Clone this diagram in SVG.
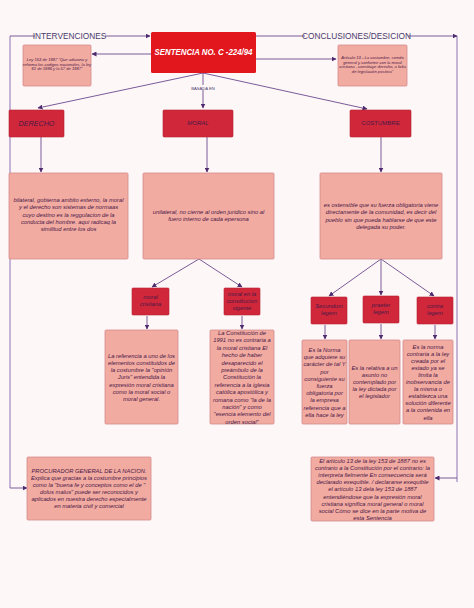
<svg xmlns="http://www.w3.org/2000/svg" width="474" height="608" viewBox="0 0 474 608">
<defs>
<marker id="arr" markerWidth="5" markerHeight="5" refX="4.5" refY="2.5" orient="auto" markerUnits="userSpaceOnUse">
<path d="M0,0 L5,2.5 L0,5 Z" fill="#4e2a6e"/>
</marker>
<style>
.cn{stroke:#6b4a8c;stroke-width:0.9;fill:none}
.side{stroke:#b8a3cf;stroke-width:1.6;fill:none}
.red{fill:#d0283a;stroke:#b51f31;stroke-width:0.6}
.pink{fill:#f1aba1;stroke:#d68a8e;stroke-width:0.8}
.t{font-family:"Liberation Sans",Arial,sans-serif;font-style:italic;fill:#4b1848;text-anchor:middle}
.s{font-size:5.8px}
.xs{font-size:4.1px}
.lab{font-family:"Liberation Sans",Arial,sans-serif;fill:#4a3a6a;text-anchor:middle}
</style>
</defs>
<rect x="0" y="0" width="474" height="608" fill="#fdf7f8"/>

<g id="connectors">
<path class="side" d="M10,36 L10,488"/>
<path class="cn" d="M10,36 L150,36" marker-end="url(#arr)"/>
<path class="cn" d="M10,488 L27,488" marker-end="url(#arr)"/>
<path class="side" d="M457,36 L457,482"/>
<path class="cn" d="M256,36 L457,36" marker-end="url(#arr)"/>
<path class="cn" d="M457,478 L435,478" marker-end="url(#arr)"/>
<path class="cn" d="M151,54 L92,54" marker-end="url(#arr)"/>
<path class="cn" d="M256,59 L336,59" marker-end="url(#arr)"/>
<path class="cn" d="M203,73 L38,108" marker-end="url(#arr)"/>
<path class="cn" d="M203,73 L203,108" marker-end="url(#arr)"/>
<path class="cn" d="M203,73 L367,109" marker-end="url(#arr)"/>
<path class="cn" d="M41,137 L41,172" marker-end="url(#arr)"/>
<path class="cn" d="M207,137 L207,172" marker-end="url(#arr)"/>
<path class="cn" d="M381,137 L381,172" marker-end="url(#arr)"/>
<path class="cn" d="M199,259 L152,287" marker-end="url(#arr)"/>
<path class="cn" d="M199,259 L242,287" marker-end="url(#arr)"/>
<path class="cn" d="M147,316 L147,329" marker-end="url(#arr)"/>
<path class="cn" d="M242,316 L242,329" marker-end="url(#arr)"/>
<path class="cn" d="M381,259 L329,296" marker-end="url(#arr)"/>
<path class="cn" d="M381,259 L381,295" marker-end="url(#arr)"/>
<path class="cn" d="M381,259 L434,296" marker-end="url(#arr)"/>
<path class="cn" d="M325,325 L325,339" marker-end="url(#arr)"/>
<path class="cn" d="M381,324 L381,339" marker-end="url(#arr)"/>
<path class="cn" d="M435,325 L435,339" marker-end="url(#arr)"/>
<rect x="35" y="31" width="70" height="9" fill="#fdf7f8"/>
<text class="lab" x="69.5" y="39" font-size="8.3">INTERVENCIONES</text>
<rect x="305" y="31" width="103" height="9" fill="#fdf7f8"/>
<text class="lab" x="356.5" y="39" font-size="8.3">CONCLUSIONES/DESICION</text>
<rect x="190" y="85" width="26" height="5" fill="#fdf7f8"/>
<text class="lab" x="203" y="89.5" font-size="4.2">BASADA EN</text>
</g>

<g id="title">
<rect x="151" y="32" width="105" height="41" rx="1.5" fill="#e2161d"/>
<text x="203.5" y="55" font-family="'Liberation Sans',Arial,sans-serif" font-weight="bold" font-style="italic" font-size="8.2" fill="#ffffff" text-anchor="middle" textLength="98" lengthAdjust="spacingAndGlyphs">SENTENCIA NO. C -224/94</text>
</g>

<g id="ley153">
<rect class="pink" x="23" y="45" width="68" height="41" rx="1"/>
<text class="t xs"><tspan x="57" y="61">Ley 153 de 1887 "Que adiciona y</tspan><tspan x="57" y="65.5">reforma los codigos nacionales, la ley</tspan><tspan x="57" y="70">61 de 1886 y la 57 de 1887"</tspan></text>
</g>

<g id="articulo13">
<rect class="pink" x="338" y="45" width="69" height="41" rx="1"/>
<text class="t xs"><tspan x="372.5" y="59">Artículo 13 -  La costumbre, siendo</tspan><tspan x="372.5" y="63.7">general y conforme con la moral</tspan><tspan x="372.5" y="68.4">cristiana , constituye derecho, a falta</tspan><tspan x="372.5" y="73.1">de legislación positiva"</tspan></text>
</g>

<g id="derecho">
<rect class="red" x="9" y="110" width="55" height="27" rx="1"/>
<text class="t" x="36.5" y="125.5" font-size="7.2">DERECHO</text>
</g>

<g id="moral">
<rect class="red" x="163" y="110" width="70" height="27" rx="1"/>
<text class="t" x="198" y="125" font-size="6">MORAL</text>
</g>

<g id="costumbre">
<rect class="red" x="350" y="110" width="61" height="27" rx="1"/>
<text class="lab" x="380.5" y="125" font-size="6" fill="#4b1848" style="fill:#4b1848">COSTUMBRE</text>
</g>

<g id="derecho-desc">
<rect class="pink" x="9" y="173" width="119" height="86" rx="1"/>
<text class="t s"><tspan x="68.5" y="202">bilateral, gobierna ambito externo, la moral</tspan><tspan x="68.5" y="209.3">y el derecho  son sistemas de normaas</tspan><tspan x="68.5" y="216.6">cuyo destino es la reggulacion de la</tspan><tspan x="68.5" y="223.9">conducta del hombre. aqui radicaq la</tspan><tspan x="68.5" y="231.2">similitud entre los dos</tspan></text>
</g>

<g id="moral-desc">
<rect class="pink" x="143" y="173" width="131" height="86" rx="1"/>
<text class="t s"><tspan x="208.5" y="214">unilateral, no cierne al orden juridico sino al</tspan><tspan x="208.5" y="221.3">fuero interno de cada epersona</tspan></text>
</g>

<g id="costumbre-desc">
<rect class="pink" x="320" y="173" width="122" height="86" rx="1"/>
<text class="t s"><tspan x="381" y="207">es ostensible que su fuerza obligatoria viene</tspan><tspan x="381" y="214.3">directamente de la comunidad, es decir del</tspan><tspan x="381" y="221.6">pueblo sin que pueda hablarse de que este</tspan><tspan x="381" y="228.9">delegada su poder.</tspan></text>
</g>

<g id="moral-cristiana">
<rect class="red" x="132" y="288" width="37" height="27" rx="1"/>
<text class="t s"><tspan x="150.5" y="299">moral</tspan><tspan x="150.5" y="306">cristiana</tspan></text>
</g>

<g id="moral-constitucion">
<rect class="red" x="224" y="288" width="36" height="27" rx="1"/>
<text class="t s"><tspan x="242" y="296">moral en la</tspan><tspan x="242" y="303">constitucion</tspan><tspan x="242" y="310">vigente</tspan></text>
</g>

<g id="referencia">
<rect class="pink" x="105" y="330" width="73" height="94" rx="1"/>
<text class="t s"><tspan x="141.5" y="357.5">La referencia a uno de los</tspan><tspan x="141.5" y="364.8">elementos constituidos de</tspan><tspan x="141.5" y="372.1">la costumbre la "opinión</tspan><tspan x="141.5" y="379.4">Juris" entendida la</tspan><tspan x="141.5" y="386.7">expresión moral cristiana</tspan><tspan x="141.5" y="394">como la moral social o</tspan><tspan x="141.5" y="401.3">moral general.</tspan></text>
</g>

<g id="constitucion1991">
<rect class="pink" x="210" y="330" width="64" height="94" rx="1"/>
<text class="t s"><tspan x="242" y="335">La Constitución de</tspan><tspan x="242" y="342.4">1991 no es contraria a</tspan><tspan x="242" y="349.8">la moral cristiana El</tspan><tspan x="242" y="357.2">hecho de haber</tspan><tspan x="242" y="364.6">desaparecido el</tspan><tspan x="242" y="372">preámbulo de la</tspan><tspan x="242" y="379.4">Constitución la</tspan><tspan x="242" y="386.8">referencia a la iglesia</tspan><tspan x="242" y="394.2">católica apostólica y</tspan><tspan x="242" y="401.6">romana como "la de la</tspan><tspan x="242" y="409">nación" y como</tspan><tspan x="242" y="416.4">"esencia elemento del</tspan><tspan x="242" y="423.8">orden social"</tspan></text>
</g>

<g id="secundum">
<rect class="red" x="311" y="297" width="36" height="27" rx="1"/>
<text class="t s"><tspan x="329" y="308">Secundum</tspan><tspan x="329" y="315">legem</tspan></text>
</g>

<g id="praeter">
<rect class="red" x="363" y="296" width="36" height="27" rx="1"/>
<text class="t s"><tspan x="381" y="307">praeter</tspan><tspan x="381" y="314">legem</tspan></text>
</g>

<g id="contra">
<rect class="red" x="417" y="297" width="36" height="27" rx="1"/>
<text class="t s"><tspan x="435" y="308">contra</tspan><tspan x="435" y="315">legem</tspan></text>
</g>

<g id="secundum-desc">
<rect class="pink" x="302" y="340" width="45" height="84" rx="1"/>
<text class="t s"><tspan x="324.5" y="352">Es la Norma</tspan><tspan x="324.5" y="359.2">que adquiere su</tspan><tspan x="324.5" y="366.4">carácter de tal Y</tspan><tspan x="324.5" y="373.6">por</tspan><tspan x="324.5" y="380.8">consiguiente su</tspan><tspan x="324.5" y="388">fuerza</tspan><tspan x="324.5" y="395.2">obligatoria por</tspan><tspan x="324.5" y="402.4">la empresa</tspan><tspan x="324.5" y="409.6">referencia que a</tspan><tspan x="324.5" y="416.8">ella hace la ley</tspan></text>
</g>

<g id="praeter-desc">
<rect class="pink" x="349" y="340" width="51" height="84" rx="1"/>
<text class="t s"><tspan x="374.5" y="370">Es la relativa a un</tspan><tspan x="374.5" y="377">asunto no</tspan><tspan x="374.5" y="384">contemplado por</tspan><tspan x="374.5" y="391">la ley dictada por</tspan><tspan x="374.5" y="398">el legislador</tspan></text>
</g>

<g id="contra-desc">
<rect class="pink" x="403" y="340" width="50" height="84" rx="1"/>
<text class="t s"><tspan x="428" y="348.5">Es la norma</tspan><tspan x="428" y="355.6">contraria a la ley</tspan><tspan x="428" y="362.7">creada por el</tspan><tspan x="428" y="369.8">estado ya se</tspan><tspan x="428" y="376.9">limita la</tspan><tspan x="428" y="384">inobservancia de</tspan><tspan x="428" y="391.1">la misma o</tspan><tspan x="428" y="398.2">establezca una</tspan><tspan x="428" y="405.3">solución diferente</tspan><tspan x="428" y="412.4">a la contenida en</tspan><tspan x="428" y="419.5">ella</tspan></text>
</g>

<g id="procurador">
<rect class="pink" x="27" y="457" width="124" height="63" rx="1"/>
<text class="t s"><tspan x="89" y="472.5">PROCURADOR GENERAL DE LA NACION.</tspan><tspan x="89" y="479.6">Explica que gracias a la costumbre principios</tspan><tspan x="89" y="486.7">como la "buena fe y conceptos como el de "</tspan><tspan x="89" y="493.8">dolus malus"  puede ser reconocidos y</tspan><tspan x="89" y="500.9">aplicados en nuestra derecho especialmente</tspan><tspan x="89" y="508">en materia civil y comercial</tspan></text>
</g>

<g id="conclusion">
<rect class="pink" x="311" y="457" width="123" height="64" rx="1"/>
<text class="t s"><tspan x="372.5" y="462.5">El artículo 13 de la ley 153 de 1887 no es</tspan><tspan x="372.5" y="469.7">contrario a la Constitución por el contrario: la</tspan><tspan x="372.5" y="476.9">interpreta fielmente En consecuencia será</tspan><tspan x="372.5" y="484.1">declarado exequible. / declararse exequible</tspan><tspan x="372.5" y="491.3">el artículo 13 dela ley 153 de 1887</tspan><tspan x="372.5" y="498.5">entendiéndose que la expresión moral</tspan><tspan x="372.5" y="505.7">cristiana significa moral general o moral</tspan><tspan x="372.5" y="512.9">social Cómo se dice en la parte motiva de</tspan><tspan x="372.5" y="520.1">esta Sentencia</tspan></text>
</g>
</svg>
